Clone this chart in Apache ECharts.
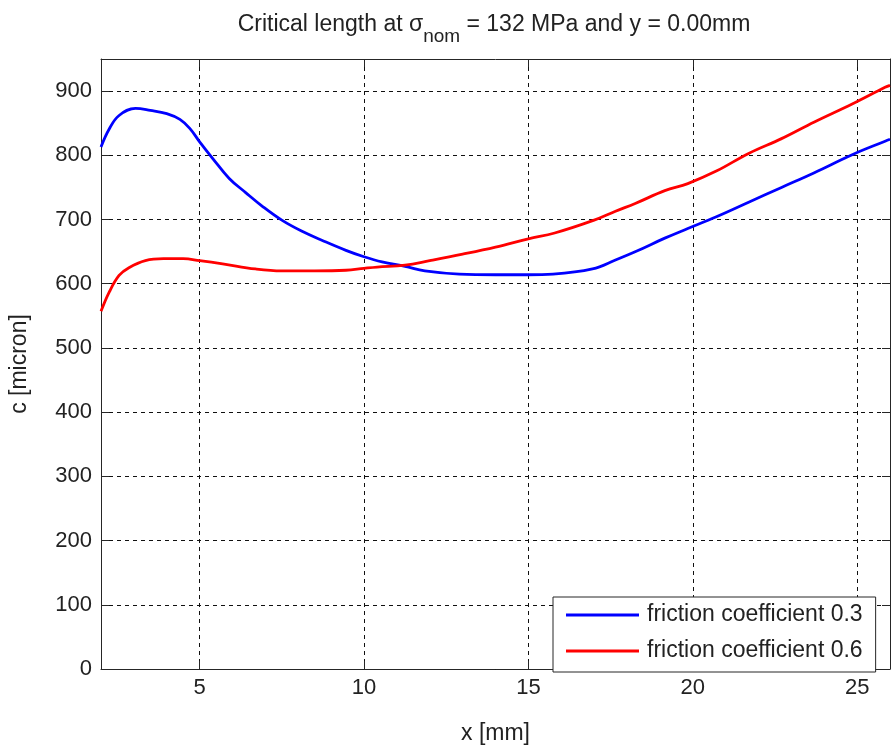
<!DOCTYPE html>
<html>
<head>
<meta charset="utf-8">
<script src="https://cdn.jsdelivr.net/npm/echarts@6/dist/echarts.min.js"></script>
<style>
html,body{margin:0;padding:0;background:#fff;}
#chart{width:894px;height:750px;}
</style>
</head>
<body>
<div id="chart"></div>
<script>
// ---- data ----
var seriesNames = ['friction coefficient 0.3', 'friction coefficient 0.6'];
var blueX = [2, 2.25, 2.55, 3.05, 3.5, 4.0, 4.4, 4.7, 5, 5.4, 5.9, 6.4, 6.9, 7.5, 8.1, 8.75, 9.45, 10, 10.55, 11.25, 11.85, 12.9, 14, 15, 15.75, 16.95, 17.65, 18.3, 19.15, 19.85, 20.7, 21.7, 22.7, 23.7, 24.85, 25.85, 26];
var blueY = [813, 841, 862, 873, 870, 865, 856, 842, 821, 795, 764, 742, 721, 699, 682, 667, 652, 642, 634, 627, 620, 615, 614, 614, 615, 623, 637, 651, 671, 686, 704, 727, 750, 773, 801, 822, 825];
var redX = [2, 2.25, 2.55, 2.85, 3.35, 3.9, 4.5, 5, 5.7, 6.7, 7.5, 8.5, 9.45, 10, 10.4, 11.25, 12, 13, 14, 15, 15.8, 17, 17.65, 18.25, 19.15, 19.85, 20.7, 21.7, 22.7, 23.7, 24.85, 25.85, 26];
var redY = [557, 587, 613, 625, 636, 639, 639, 636, 631, 623, 620, 620, 621, 624, 626, 629, 636, 646, 657, 670, 679, 699, 713, 725, 745, 756, 775, 803, 826, 852, 880, 906, 909];
var xTicks = [5, 10, 15, 20, 25];
var yTicks = [0, 100, 200, 300, 400, 500, 600, 700, 800, 900];
var xRange = [2, 26];
var yRange = [0, 950];

function pairs(xs, ys) { return xs.map(function (x, i) { return [x, ys[i]]; }); }

var FONT = '"Liberation Sans", Arial, sans-serif';
var AX = '#262626';
var chart = echarts.init(document.getElementById('chart'), null, {renderer: 'canvas'});

function xAx(pos, main) {
  return {
    type: 'value', position: pos, min: xRange[0], max: xRange[1],
    name: main ? 'x [mm]' : '', nameLocation: 'middle', nameGap: 53,
    nameTextStyle: {fontFamily: FONT, fontSize: 23, color: '#222'},
    axisLine: {show: true, onZero: false, lineStyle: {color: AX, width: 1}},
    axisTick: {show: true, inside: true, length: 8, customValues: xTicks, lineStyle: {color: AX}},
    axisLabel: {show: main, customValues: xTicks, fontFamily: FONT, fontSize: 22, color: '#222', margin: 8},
    splitLine: {show: main, lineStyle: {color: '#111', type: [4, 4], width: 1}}
  };
}
function yAx(pos, main) {
  return {
    type: 'value', position: pos, min: yRange[0], max: yRange[1],
    name: main ? 'c [micron]' : '', nameLocation: 'middle', nameGap: 70, nameRotate: 90,
    nameTextStyle: {fontFamily: FONT, fontSize: 23, color: '#222'},
    axisLine: {show: true, onZero: false, lineStyle: {color: AX, width: 1}},
    axisTick: {show: true, inside: true, length: 8, customValues: yTicks, lineStyle: {color: AX}},
    axisLabel: {show: main, customValues: yTicks, fontFamily: FONT, fontSize: 22, color: '#222', margin: 9},
    splitLine: {show: main, lineStyle: {color: '#111', type: [4, 4], width: 1}}
  };
}

chart.setOption({
  animation: false,
  backgroundColor: '#fff',
  title: {
    text: '{a|Critical length at σ}{s|nom}{a| = 132 MPa and y = 0.00mm}',
    left: 494, top: 3, padding: 0, textAlign: 'center',
    textStyle: {
      fontWeight: 'normal',
      rich: {
        a: {fontFamily: FONT, fontSize: 23, fontWeight: 'normal', color: '#222'},
        s: {fontFamily: FONT, fontSize: 19, fontWeight: 'normal', color: '#222', padding: [24, 0, 0, 0]}
      }
    }
  },
  grid: {left: 99, right: 4, top: 59, bottom: 68, containLabel: false},
  xAxis: [xAx('bottom', true), xAx('top', false)],
  yAxis: [yAx('left', true), yAx('right', false)],
  legend: {
    orient: 'vertical', left: 553, top: 597,
    padding: [5, 13, 8, 13], itemGap: 10,
    icon: 'rect', itemWidth: 73, itemHeight: 3,
    backgroundColor: '#fff', borderColor: AX, borderWidth: 1, borderRadius: 0,
    textStyle: {fontFamily: FONT, fontSize: 23, color: '#222', lineHeight: 26, padding: [0, 0, 0, 3]},
    data: seriesNames
  },
  series: [
    {name: seriesNames[0], type: 'line', data: pairs(blueX, blueY), smooth: 0.4, symbol: 'none',
     lineStyle: {color: '#0000ff', width: 2.8}, itemStyle: {color: '#0000ff'}, z: 3},
    {name: seriesNames[1], type: 'line', data: pairs(redX, redY), smooth: 0.4, symbol: 'none',
     lineStyle: {color: '#ff0000', width: 2.8}, itemStyle: {color: '#ff0000'}, z: 3}
  ]
});
</script>
</body>
</html>
